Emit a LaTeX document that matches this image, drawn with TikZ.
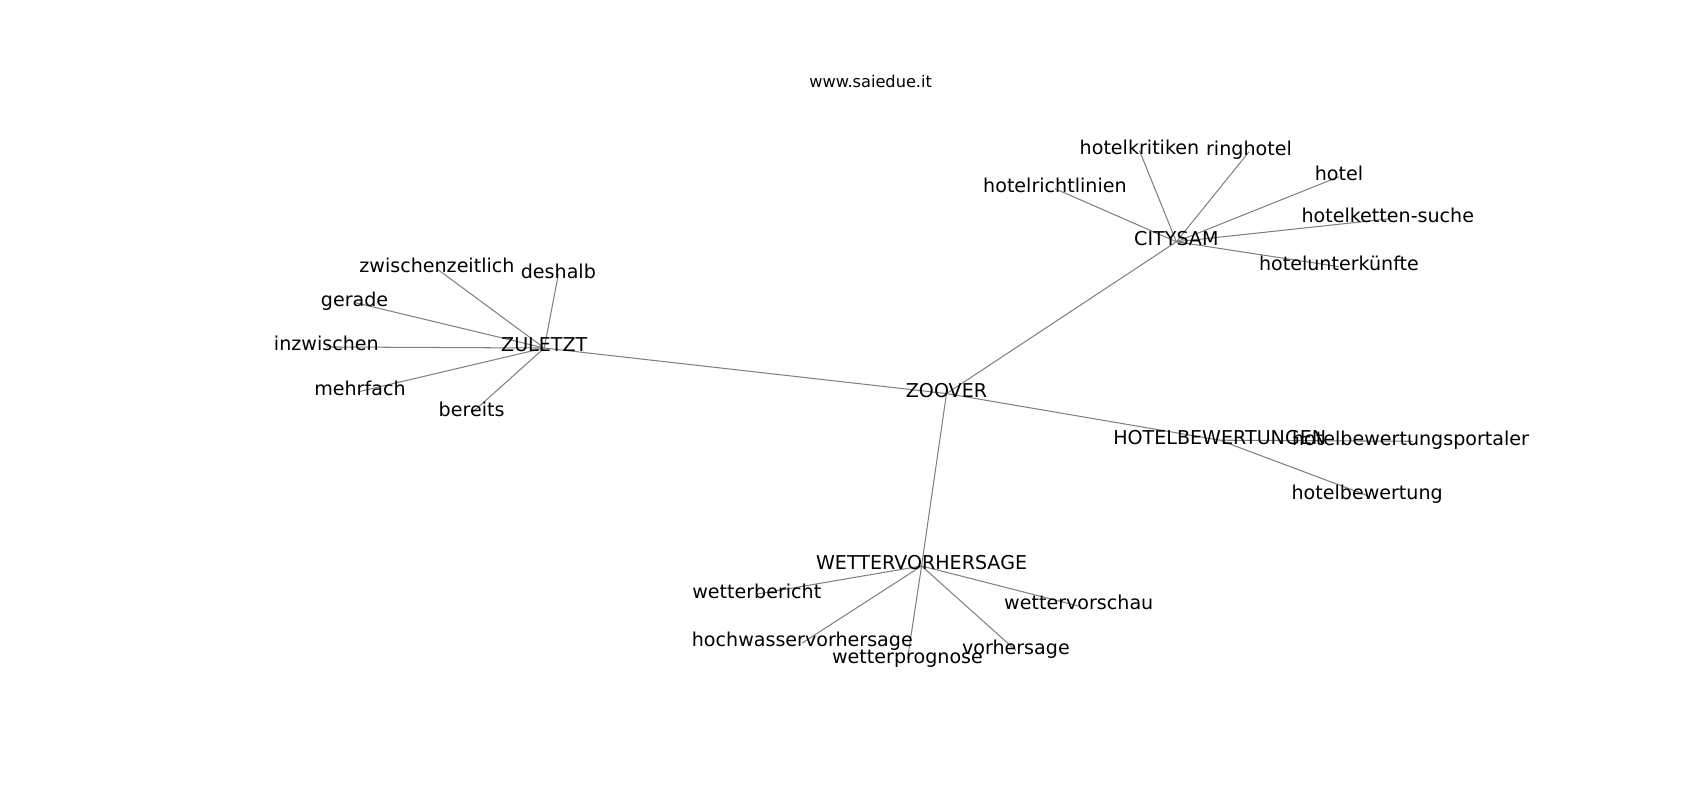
\documentclass[tikz,border=0pt]{standalone}
\usepackage{fontspec}
\setmainfont{DejaVu Sans}
\usetikzlibrary{backgrounds}

\begin{document}
\begin{tikzpicture}[x=0.2754mm, y=-0.2754mm,
    every node/.style={font=\fontsize{13.8}{16}\selectfont, inner sep=0pt, text height=0.76em, text depth=0.2em},
    title/.style={font=\fontsize{11.7}{14}\selectfont},
    edge/.style={draw=gray, line width=0.75pt}]
  \useasboundingbox (0, 0) rectangle (1568, 738);
  \node[title] (site) at (803, 77) {www.saiedue.it};
  % hubs
  \foreach \n/\x/\y/\t in {zoover/873/363/ZOOVER, zuletzt/502/321/ZULETZT, citysam/1085/223/CITYSAM,
      bewertungen/1125/406/HOTELBEWERTUNGEN, wetter/850/522/WETTERVORHERSAGE}
    {\node (\n) at (\x, \y) {\t};}
  % leaves
  \foreach \n/\x/\y/\t in {zwischen/403/248/zwischenzeitlich, deshalb/515/253/deshalb, gerade/327/279/gerade,
      inzwischen/301/320/inzwischen, mehrfach/332/361/mehrfach, bereits/435/381/bereits,
      kritiken/1051/139/hotelkritiken, ring/1152/140/ringhotel, richtlinien/973/174/hotelrichtlinien,
      hotel/1235/163/hotel, ketten/1280/202/hotelketten-suche, unterkuenfte/1235/246/hotelunterkünfte,
      bewertung/1261/457/hotelbewertung, bericht/698/548/wetterbericht, vorschau/995/559/wettervorschau,
      hochwasser/740/593/hochwasservorhersage, prognose/837/608/wetterprognose, vorhersage/937/600/vorhersage}
    {\node (\n) at (\x, \y) {\t};}
  \begin{scope}
    \clip (0, 0) rectangle (1410, 738);
    \node (portalen) at (1303, 407) {hotelbewertungsportalen};
  \end{scope}
  \begin{scope}[on background layer]
    \foreach \a/\b in {zoover/zuletzt, zoover/citysam, zoover/bewertungen, zoover/wetter,
        zuletzt/zwischen, zuletzt/deshalb, zuletzt/gerade, zuletzt/inzwischen, zuletzt/mehrfach, zuletzt/bereits,
        citysam/kritiken, citysam/ring, citysam/richtlinien, citysam/hotel, citysam/ketten, citysam/unterkuenfte,
        bewertungen/portalen, bewertungen/bewertung,
        wetter/bericht, wetter/vorschau, wetter/hochwasser, wetter/prognose, wetter/vorhersage}
      {\draw[edge] (\a.center) -- (\b.center);}
  \end{scope}
\end{tikzpicture}
\end{document}
